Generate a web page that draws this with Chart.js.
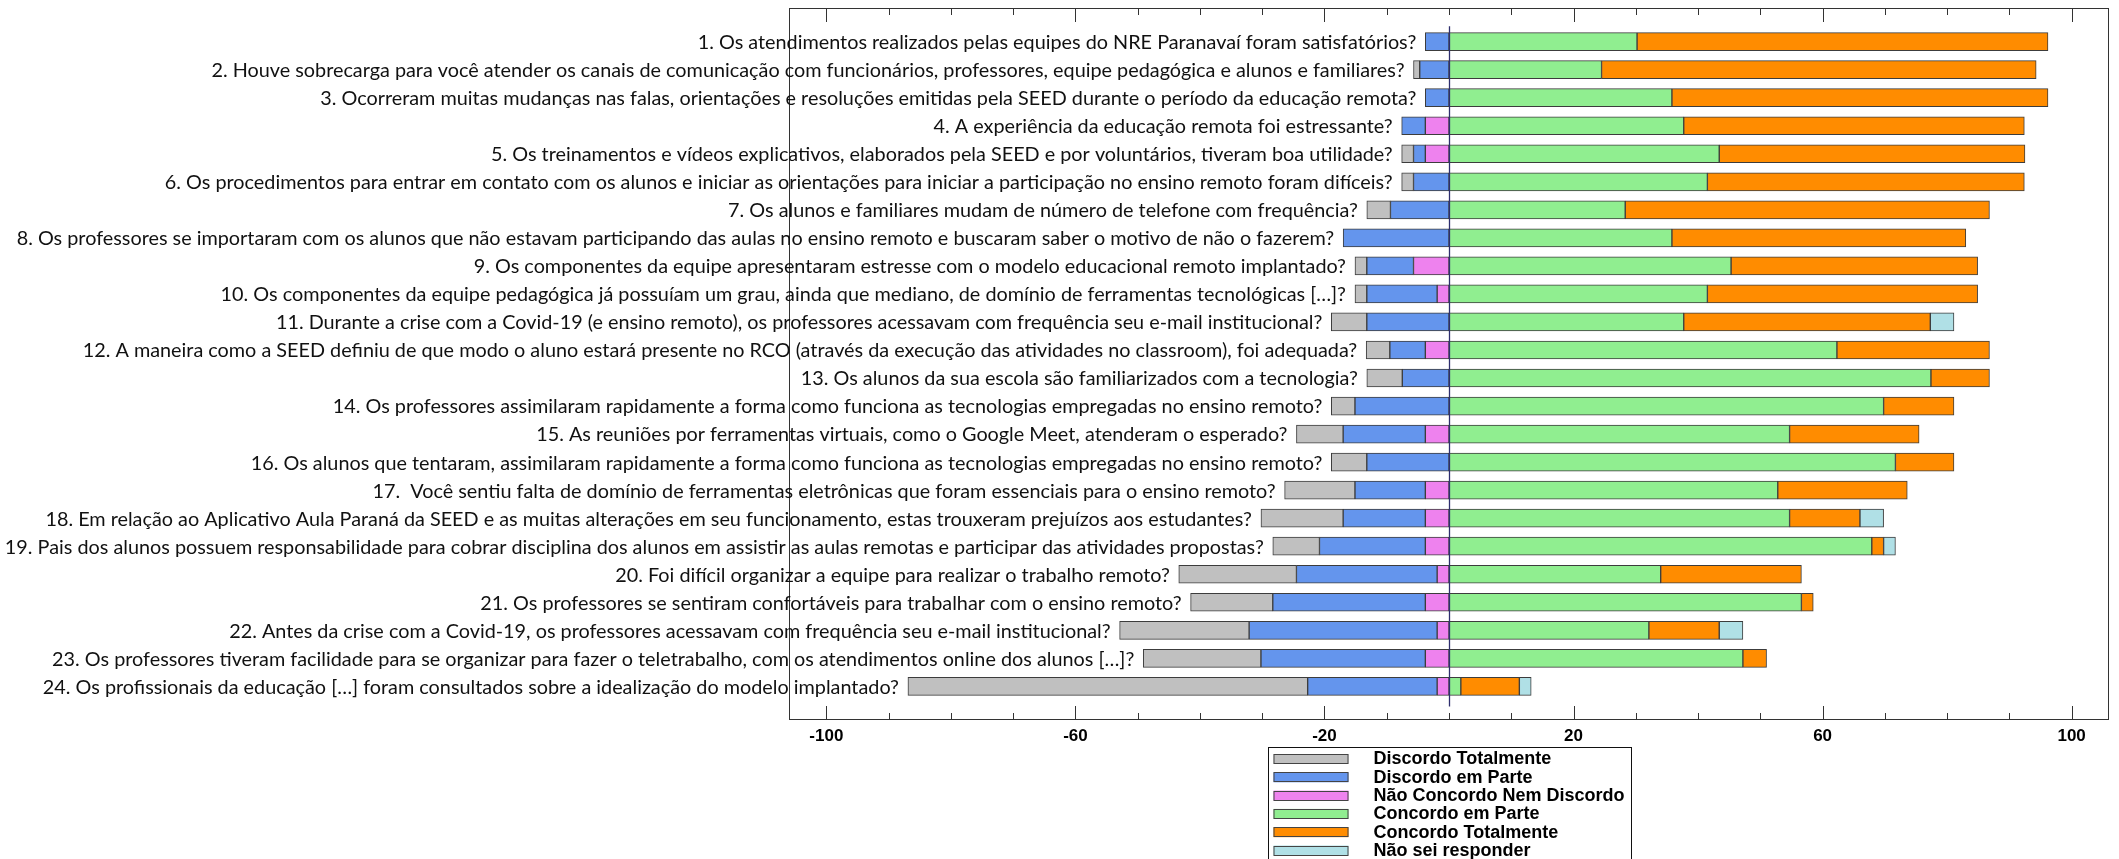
<!DOCTYPE html>
<html><head><meta charset="utf-8">
<script src="https://cdn.jsdelivr.net/npm/chart.js@4.4.1/dist/chart.umd.min.js"></script>
<style>html,body{margin:0;padding:0;background:#fff;overflow:hidden}#wrap{width:2119px;height:859px;position:relative}</style>
</head><body><div id="wrap"><canvas id="c" width="2119" height="859"></canvas></div>
<script>
const questions = [
  "1. Os atendimentos realizados pelas equipes do NRE Paranavaí foram satisfatórios?",
  "2. Houve sobrecarga para você atender os canais de comunicação com funcionários, professores, equipe pedagógica e alunos e familiares?",
  "3. Ocorreram muitas mudanças nas falas, orientações e resoluções emitidas pela SEED durante o período da educação remota?",
  "4. A experiência da educação remota foi estressante?",
  "5. Os treinamentos e vídeos explicativos, elaborados pela SEED e por voluntários, tiveram boa utilidade?",
  "6. Os procedimentos para entrar em contato com os alunos e iniciar as orientações para iniciar a participação no ensino remoto foram difíceis?",
  "7. Os alunos e familiares mudam de número de telefone com frequência?",
  "8. Os professores se importaram com os alunos que não estavam participando das aulas no ensino remoto e buscaram saber o motivo de não o fazerem?",
  "9. Os componentes da equipe apresentaram estresse com o modelo educacional remoto implantado?",
  "10. Os componentes da equipe pedagógica já possuíam um grau, ainda que mediano, de domínio de ferramentas tecnológicas […]?",
  "11. Durante a crise com a Covid-19 (e ensino remoto), os professores acessavam com frequência seu e-mail institucional?",
  "12. A maneira como a SEED definiu de que modo o aluno estará presente no RCO (através da execução das atividades no classroom), foi adequada?",
  "13. Os alunos da sua escola são familiarizados com a tecnologia?",
  "14. Os professores assimilaram rapidamente a forma como funciona as tecnologias empregadas no ensino remoto?",
  "15. As reuniões por ferramentas virtuais, como o Google Meet, atenderam o esperado?",
  "16. Os alunos que tentaram, assimilaram rapidamente a forma como funciona as tecnologias empregadas no ensino remoto?",
  "17.  Você sentiu falta de domínio de ferramentas eletrônicas que foram essenciais para o ensino remoto?",
  "18. Em relação ao Aplicativo Aula Paraná da SEED e as muitas alterações em seu funcionamento, estas trouxeram prejuízos aos estudantes?",
  "19. Pais dos alunos possuem responsabilidade para cobrar disciplina dos alunos em assistir as aulas remotas e participar das atividades propostas?",
  "20. Foi difícil organizar a equipe para realizar o trabalho remoto?",
  "21. Os professores se sentiram confortáveis para trabalhar com o ensino remoto?",
  "22. Antes da crise com a Covid-19, os professores acessavam com frequência seu e-mail institucional?",
  "23. Os professores tiveram facilidade para se organizar para fazer o teletrabalho, com os atendimentos online dos alunos […]?",
  "24. Os profissionais da educação […] foram consultados sobre a idealização do modelo implantado?"
];
// percentages (negative side drawn to the left of zero)
const discordoTotalmente     = [0, 1.0, 0, 0, 1.9, 1.9, 3.8, 0, 1.9, 1.9, 5.7, 3.8, 5.7, 3.8, 7.5, 5.7, 11.3, 13.2, 7.5, 18.9, 13.2, 20.8, 18.9, 64.2];
const discordoEmParte        = [3.8, 4.7, 3.8, 3.8, 1.9, 5.7, 9.4, 17.0, 7.5, 11.3, 13.2, 5.7, 7.5, 15.1, 13.2, 13.2, 11.3, 13.2, 17.0, 22.6, 24.5, 30.2, 26.4, 20.8];
const naoConcordoNemDiscordo = [0, 0, 0, 3.8, 3.8, 0, 0, 0, 5.7, 1.9, 0, 3.8, 0, 0, 3.8, 0, 3.8, 3.8, 3.8, 1.9, 3.8, 1.9, 3.8, 1.9];
const concordoEmParte        = [30.2, 24.5, 35.8, 37.7, 43.4, 41.5, 28.3, 35.8, 45.3, 41.5, 37.7, 62.3, 77.4, 69.8, 54.7, 71.7, 52.8, 54.7, 67.9, 34.0, 56.6, 32.1, 47.2, 1.9];
const concordoTotalmente     = [66.0, 69.8, 60.4, 54.7, 49.1, 50.9, 58.5, 47.2, 39.6, 43.4, 39.6, 24.5, 9.4, 11.3, 20.8, 9.4, 20.8, 11.3, 1.9, 22.6, 1.9, 11.3, 3.8, 9.4];
const naoSeiResponder        = [0, 0, 0, 0, 0, 0, 0, 0, 0, 0, 3.8, 0, 0, 0, 0, 0, 0, 3.8, 1.9, 0, 0, 3.8, 0, 1.9];
const seriesNames = ["Discordo Totalmente", "Discordo em Parte", "Não Concordo Nem Discordo", "Concordo em Parte", "Concordo Totalmente", "Não sei responder"];
const tickLabels = [-100, -60, -20, 20, 60, 100];

const colors = ['#C0C0C0', '#6495ED', '#EE82EE', '#90EE90', '#FF8C00', '#B0E0E6'];
const seriesValues = [discordoTotalmente, discordoEmParte, naoConcordoNemDiscordo, concordoEmParte, concordoTotalmente, naoSeiResponder];
const signs = [-1, -1, -1, 1, 1, 1];
// stacking order: nearest to zero first on each side
const stackOrder = [2, 1, 0, 3, 4, 5];
const datasets = stackOrder.map(k => ({
  label: seriesNames[k],
  data: seriesValues[k].map((v, i) => ({ x: v > 0 ? signs[k] * v : null, y: i + 1 })),
  backgroundColor: colors[k],
  borderColor: '#3c3c3c',
  borderWidth: 1,
  borderSkipped: false,
  barThickness: 18
}));

const LABEL_FONT = 'Lato, "Open Sans", sans-serif';
const decor = {
  id: 'decor',
  afterDatasetsDraw(chart) {
    const { ctx, chartArea: a, scales: { x, y } } = chart;
    ctx.save();
    // zero line
    const x0 = Math.round(x.getPixelForValue(0)) + 0.5;
    ctx.strokeStyle = '#2e2e6e';
    ctx.lineWidth = 1.3;
    ctx.beginPath();
    ctx.moveTo(x0, y.getPixelForValue(0.45));
    ctx.lineTo(x0, y.getPixelForValue(24.72));
    ctx.stroke();
    // frame
    ctx.strokeStyle = '#333';
    ctx.lineWidth = 1;
    ctx.strokeRect(a.left + 0.5, a.top + 0.5, a.width - 1, a.height - 1);
    // inward ticks top & bottom
    ctx.beginPath();
    for (let v = -100; v <= 100; v += 10) {
      const px = Math.round(x.getPixelForValue(v)) + 0.5;
      const len = tickLabels.includes(v) ? 14 : 7;
      ctx.moveTo(px, a.top); ctx.lineTo(px, a.top + len);
      ctx.moveTo(px, a.bottom); ctx.lineTo(px, a.bottom - len);
    }
    ctx.stroke();
    // question labels right-aligned at bar start
    ctx.font = '20px ' + LABEL_FONT;
    const w8 = ctx.measureText(questions[7]).width;
    const size = 20 * 1318 / w8;
    ctx.font = size.toFixed(2) + 'px ' + LABEL_FONT;
    ctx.fillStyle = '#111';
    ctx.textAlign = 'right';
    ctx.textBaseline = 'middle';
    questions.forEach((q, i) => {
      const neg = discordoTotalmente[i] + discordoEmParte[i] + naoConcordoNemDiscordo[i];
      const px = x.getPixelForValue(-neg) - 9;
      ctx.fillText(q, px, y.getPixelForValue(i + 1) + 1);
    });
    ctx.restore();
  },
  afterDraw(chart) {
    const { ctx, scales: { x } } = chart;
    ctx.save();
    const cx = x.getPixelForValue(0);
    const boxW = 363, left = Math.round(cx - boxW / 2) + 0.5, top = 747.5;
    ctx.strokeStyle = '#111';
    ctx.lineWidth = 1;
    ctx.strokeRect(left, top, boxW, 120);
    ctx.font = 'bold 18px "Liberation Sans", Arial, sans-serif';
    ctx.textAlign = 'left';
    ctx.textBaseline = 'middle';
    seriesNames.forEach((n, k) => {
      const cy = 758.5 + k * 18.3;
      ctx.fillStyle = colors[k];
      ctx.fillRect(left + 5, cy - 4.5, 75, 10);
      ctx.strokeStyle = '#444';
      ctx.strokeRect(left + 5.5, Math.round(cy - 4.5) + 0.5, 74, 9);
      ctx.fillStyle = '#000';
      ctx.fillText(n, left + 105, cy + 1);
    });
    ctx.restore();
  }
};

new Chart(document.getElementById('c'), {
  type: 'bar',
  data: { datasets },
  options: {
    indexAxis: 'y',
    responsive: false,
    animation: false,
    devicePixelRatio: 1,
    layout: { padding: { left: 789, right: 10, top: 8, bottom: 109 } },
    plugins: { legend: { display: false }, tooltip: { enabled: false } },
    scales: {
      x: {
        type: 'linear', min: -106, max: 106, stacked: true,
        grid: { display: false, drawTicks: false },
        border: { display: false },
        ticks: {
          stepSize: 10, autoSkip: false, includeBounds: false, maxRotation: 0,
          callback: v => tickLabels.includes(v) ? String(v) : '',
          font: { family: '"Liberation Sans", Arial, sans-serif', weight: 'bold', size: 17 },
          color: '#000', padding: 6
        },
        afterFit(s) { s.height = 30; }
      },
      y: {
        type: 'linear', reverse: true, min: -0.2, max: 25.2, stacked: true,
        offset: false, grid: { offset: false },
        display: false
      }
    }
  },
  plugins: [decor]
});
</script>
</body></html>
